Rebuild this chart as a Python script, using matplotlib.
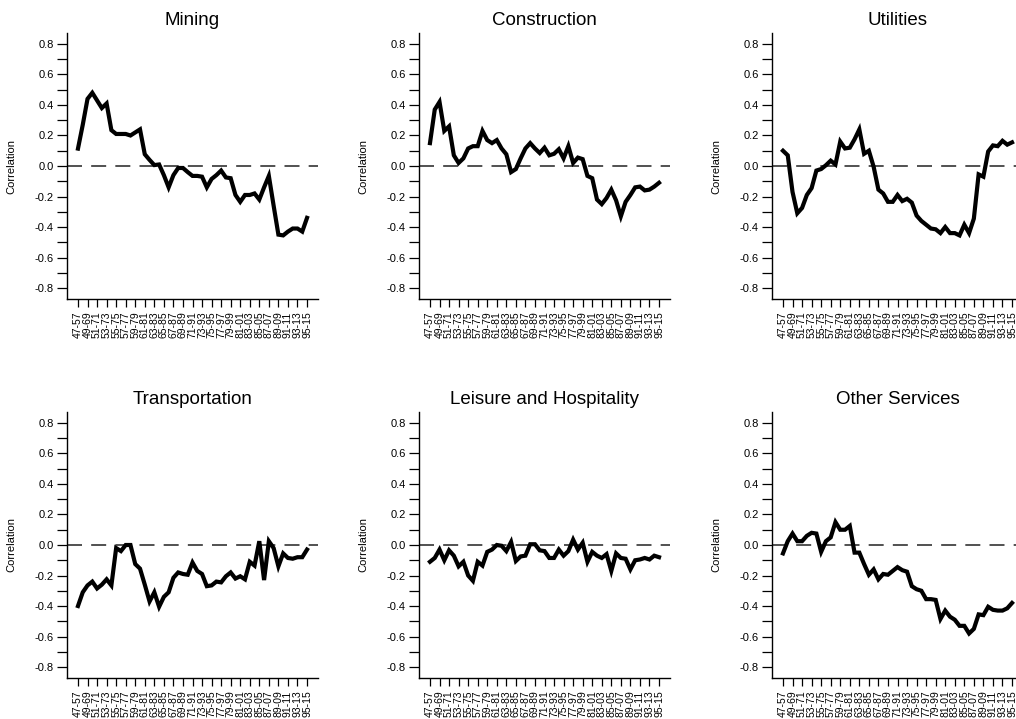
import numpy as np
import matplotlib
matplotlib.use("Agg")
import matplotlib.pyplot as plt
from matplotlib.ticker import FixedLocator

plt.rcParams['font.family'] = ['Liberation Sans', 'DejaVu Sans']

# window start years (one point per 10-year rolling window)
years = list(range(47, 96))
tick_years = list(range(47, 96, 2))
tick_labels = ["47-57", "49-69", "51-71", "53-73", "55-75", "57-77", "59-79",
               "61-81", "63-83", "65-85", "67-87", "69-89", "71-91", "73-93",
               "75-95", "77-97", "79-99", "81-01", "83-03", "85-05", "87-07",
               "89-09", "91-11", "93-13", "95-15"]

mining = [0.114, 0.27, 0.44, 0.48, 0.43, 0.38, 0.41, 0.235, 0.21, 0.21,
          0.21, 0.20, 0.22, 0.24, 0.077, 0.04, 0.006, 0.01, -0.06, -0.14,
          -0.06, -0.013, -0.013, -0.04, -0.065, -0.065, -0.07, -0.14, -0.085, -0.06,
          -0.03, -0.075, -0.08, -0.19, -0.235, -0.19, -0.19, -0.18, -0.22, -0.14,
          -0.065, -0.26, -0.45, -0.455, -0.43, -0.41, -0.41, -0.43, -0.34]

construction = [0.15, 0.37, 0.42, 0.23, 0.26, 0.07, 0.02, 0.05, 0.115, 0.13,
                0.13, 0.23, 0.17, 0.15, 0.17, 0.115, 0.077, -0.04, -0.02, 0.05,
                0.115, 0.15, 0.115, 0.085, 0.12, 0.07, 0.08, 0.11, 0.05, 0.13,
                0.02, 0.055, 0.045, -0.065, -0.08, -0.22, -0.25, -0.21, -0.155, -0.225,
                -0.33, -0.235, -0.19, -0.14, -0.135, -0.16, -0.155, -0.135, -0.11]

utilities = [0.10, 0.07, -0.17, -0.31, -0.275, -0.19, -0.145, -0.03, -0.02, 0.005,
             0.035, 0.01, 0.16, 0.115, 0.12, 0.175, 0.24, 0.08, 0.10, -0.005,
             -0.155, -0.18, -0.235, -0.235, -0.19, -0.23, -0.215, -0.24, -0.325, -0.36,
             -0.385, -0.41, -0.415, -0.44, -0.40, -0.44, -0.44, -0.455, -0.385, -0.44,
             -0.345, -0.055, -0.07, 0.095, 0.135, 0.13, 0.165, 0.14, 0.155]

transportation = [-0.40, -0.31, -0.265, -0.24, -0.285, -0.26, -0.225, -0.265, -0.02, -0.04,
                  0.0, 0.0, -0.125, -0.155, -0.26, -0.37, -0.31, -0.405, -0.34, -0.31,
                  -0.215, -0.18, -0.19, -0.195, -0.115, -0.17, -0.19, -0.27, -0.265, -0.24,
                  -0.245, -0.205, -0.18, -0.22, -0.205, -0.225, -0.11, -0.135, 0.025, -0.23,
                  0.025, -0.02, -0.14, -0.055, -0.085, -0.09, -0.08, -0.08, -0.03]

leisure = [-0.11, -0.085, -0.03, -0.10, -0.035, -0.07, -0.14, -0.11, -0.20, -0.235,
           -0.11, -0.135, -0.045, -0.03, 0.0, -0.005, -0.04, 0.02, -0.105, -0.075,
           -0.07, 0.005, 0.005, -0.035, -0.04, -0.085, -0.085, -0.03, -0.07, -0.04,
           0.035, -0.03, 0.015, -0.11, -0.045, -0.07, -0.085, -0.06, -0.17, -0.055,
           -0.085, -0.09, -0.16, -0.10, -0.095, -0.085, -0.095, -0.07, -0.08]

other_services = [-0.055, 0.025, 0.075, 0.025, 0.025, 0.06, 0.08, 0.075, -0.045, 0.025,
                  0.05, 0.15, 0.10, 0.10, 0.125, -0.05, -0.05, -0.125, -0.195, -0.16,
                  -0.225, -0.19, -0.195, -0.17, -0.145, -0.165, -0.175, -0.27, -0.29, -0.30,
                  -0.355, -0.355, -0.36, -0.485, -0.43, -0.47, -0.49, -0.53, -0.53, -0.58,
                  -0.55, -0.455, -0.46, -0.405, -0.425, -0.43, -0.43, -0.415, -0.38]

titles = ["Mining", "Construction", "Utilities",
          "Transportation", "Leisure and Hospitality", "Other Services"]
series = [mining, construction, utilities, transportation, leisure, other_services]
yticks = [-0.8, -0.6, -0.4, -0.2, 0.0, 0.2, 0.4, 0.6, 0.8]
yticklabels = ["-0.8", "-0.6", "-0.4", "-0.2", "0.0", "0.2", "0.4", "0.6", "0.8"]
yminor = [-0.7, -0.5, -0.3, -0.1, 0.1, 0.3, 0.5, 0.7]

W, H = 1016, 719
fig = plt.figure(figsize=(W / 100, H / 100), dpi=100)

lefts_px = [67, 419, 772]
tops_px = [33, 412]
bottoms_px = [299, 678]
width_px = 251

for i, (title, vals) in enumerate(zip(titles, series)):
    r, c = divmod(i, 3)
    left = lefts_px[c] / W
    bottom = (H - bottoms_px[r]) / H
    height = (bottoms_px[r] - tops_px[r]) / H
    ax = fig.add_axes([left, bottom, width_px / W, height])
    ax.plot(years, vals, color='black', lw=3, solid_joinstyle='miter')
    ax.axhline(0, color='#333333', lw=1.2, linestyle=(0, (9, 5.5)), zorder=1)
    ax.set_xlim(44.7, 97.3)
    ax.set_ylim(-0.872, 0.872)
    ax.yaxis.set_major_locator(FixedLocator(yticks))
    ax.yaxis.set_minor_locator(FixedLocator(yminor))
    ax.set_yticklabels(yticklabels)
    ax.set_xticks(tick_years)
    ax.set_xticklabels(tick_labels, rotation=90, fontsize=7.5)
    ax.tick_params(axis='y', which='both', direction='out', length=7, width=0.9, labelsize=8, pad=2.5)
    ax.tick_params(axis='x', which='both', direction='out', length=6, width=0.9, pad=3)
    for s in ['top', 'right']:
        ax.spines[s].set_visible(False)
    for s in ['left', 'bottom']:
        ax.spines[s].set_linewidth(1.0)
    ax.set_title(title, fontsize=13.5, pad=6)
    ax.set_ylabel("Correlation", fontsize=8)
    ax.yaxis.set_label_coords(-0.2, 0.5)

fig.savefig("out.png", dpi=100)
